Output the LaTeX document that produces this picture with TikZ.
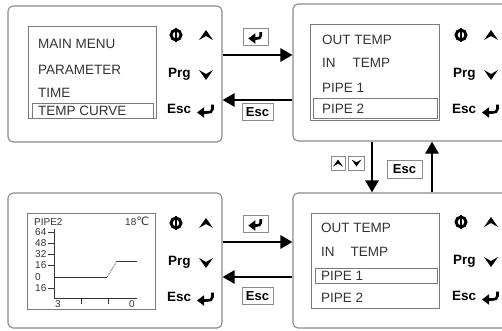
\documentclass[tikz,border=0pt]{standalone}
\usepackage{fontspec}
\setmainfont{Liberation Sans}
\newfontfamily\djv{DejaVu Sans}
\usetikzlibrary{arrows.meta}
\definecolor{ink}{HTML}{333333}
\definecolor{frame}{HTML}{8A8A8A}
\definecolor{scr}{HTML}{7A7A7A}
\tikzset{
  enter/.pic={\draw[line width=2.6pt,-{Triangle[length=7pt,width=10pt]}] (6.5,-5.5) -- (6.5,-1) .. controls (6.5,2) and (4,2.5) .. (1,2.5) -- (-9,2.5);},
  upmark/.pic={\fill (0,-5) -- (7,5) -- (0,1) -- (-7,5) -- cycle;},
  downmark/.pic={\fill (0,5) -- (7,-5) -- (0,-1) -- (-7,-5) -- cycle;},
  btns/.pic={
    \draw[line width=2.9pt] (0,0) circle [radius=5pt];
    \draw[line width=1.8pt] (0,-7) -- (0,7);
    \pic at (30,0) {upmark};
    \node[btntext] (-prg) at (-8,38) {Prg};
    \pic at (30,40) {downmark};
    \node[btntext] (-esc) at (-9,74) {Esc};
    \pic at (30,75) {enter};
  }
}
\begin{document}
\begin{tikzpicture}[x=1pt,y=-1pt,
  panel/.style={draw=frame,line width=1.1pt,rounded corners=5pt,inner sep=0pt},
  screen/.style={draw=scr,line width=0.8pt},
  hl/.style={draw=scr,line width=0.8pt},
  menu/.style={anchor=west,inner sep=0pt,text=ink,font=\fontsize{13.5}{14}\selectfont,text height=9.7pt,text depth=0pt},
  btntext/.style={anchor=west,inner sep=0pt,font=\bfseries\fontsize{13.5}{14}\selectfont,text height=9.7pt,text depth=0pt},
  chart/.style={inner sep=0pt,text=ink,font=\fontsize{10}{10}\selectfont,text height=7.2pt,text depth=0pt},
  lbl/.style={draw=frame,line width=0.8pt,inner sep=0pt},
  lbltext/.style={font=\bfseries\fontsize{13}{13}\selectfont,text height=9.3pt,text depth=0pt},
  bigarrow/.style={line width=2.6pt,-{Triangle[length=12pt,width=13pt]}},
  axis/.style={draw=ink,line width=0.8pt}
]
\useasboundingbox (0,0) rectangle (502,330);
\clip (0,0) rectangle (502,330);

% panels
\node[panel,minimum width=214pt,minimum height=136pt] (tl) at (115,74) {};
\node[panel,minimum width=219pt,minimum height=137pt] (tr) at (402.5,72.5) {};
\node[panel,minimum width=214pt,minimum height=135pt] (bl) at (115,260.5) {};
\node[panel,minimum width=219pt,minimum height=135pt] (br) at (402.5,260.5) {};

% top-left screen
\draw[screen] (28,26) rectangle (156,118);
\draw[hl] (32,103) rectangle (153,118);
\node[menu] (t1) at (38,44) {MAIN MENU};
\node[menu] (t2) at (38,70) {PARAMETER};
\node[menu] (t3) at (38,93) {TIME};
\node[menu] (t4) at (38,110.5) {TEMP CURVE};
\pic (bta) at (176,35) {btns};

% top-right screen
\draw[screen] (310,24) rectangle (439,120);
\draw[hl] (313,98) rectangle (437,118);
\node[menu] (r1) at (322,40) {OUT TEMP};
\node[menu] (r2) at (322,63) {IN\hspace{17pt}TEMP};
\node[menu] (r3) at (322,87.5) {PIPE 1};
\node[menu] (r4) at (322,108.5) {PIPE 2};
\pic (btb) at (461,35) {btns};

% bottom-left screen with chart
\draw[screen] (27,213) rectangle (155,309);
\node[chart,anchor=west] (cname) at (34,222) {PIPE2};
\node[chart,anchor=west] (ctemp) at (125,222) {18{\djv\fontsize{11.5}{11}\selectfont ℃}};
\node[chart,anchor=west] (y1) at (35,232) {64};
\node[chart,anchor=west] (y2) at (35,243) {48};
\node[chart,anchor=west] (y3) at (35,254) {32};
\node[chart,anchor=west] (y4) at (35,265) {16};
\node[chart,anchor=west] (y5) at (35,277) {0};
\node[chart,anchor=west] (y6) at (35,288) {16};
\draw[axis] (54,229) -- (54,298) -- (137,298);
\foreach \yy in {232,243,254,265,288} \draw[axis] (48,\yy) -- (54,\yy);
\foreach \xx in {81,108} \draw[axis] (\xx,298) -- (\xx,304);
\node[chart] (x1) at (58,304) {3};
\node[chart] (x2) at (132,304) {0};
\draw[axis] (54,277) -- (107,277);
\draw[axis,densely dotted] (107,277) -- (117,261);
\draw[axis] (117,261) -- (137,261);
\pic (btc) at (176,223) {btns};

% bottom-right screen
\draw[screen] (311,213) rectangle (439,308);
\draw[hl] (315,268) rectangle (437,283);
\node[menu] (s1) at (321,228) {OUT TEMP};
\node[menu] (s2) at (321,252) {IN\hspace{16pt}TEMP};
\node[menu] (s3) at (321,276) {PIPE 1};
\node[menu] (s4) at (321,298) {PIPE 2};
\pic (btd) at (461,222) {btns};

% connectors
\draw[bigarrow] (tl.east |- 0,55) -- (tr.west |- 0,55);
\draw[bigarrow] (tr.west |- 0,100) -- (tl.east |- 0,100);
\draw[bigarrow] (bl.east |- 0,242) -- (br.west |- 0,242);
\draw[bigarrow] (br.west |- 0,277) -- (bl.east |- 0,277);
\draw[bigarrow] (tr.south -| 372,0) -- (br.north -| 372,0);
\draw[bigarrow] (br.north -| 432,0) -- (tr.south -| 432,0);

% connector labels
\node[lbl,minimum width=25pt,minimum height=17pt] (la) at (255.5,36.5) {};
\pic[scale=0.8] at (la.center) {enter};
\node[lbl,lbltext,minimum width=31pt,minimum height=17pt] (lb) at (257.5,111.5) {Esc};
\node[lbl,minimum width=25pt,minimum height=17pt] (lc) at (255.5,223.5) {};
\pic[scale=0.8] at (lc.center) {enter};
\node[lbl,lbltext,minimum width=31pt,minimum height=17pt] (ld) at (257.5,296) {Esc};
\node[lbl,minimum width=14pt,minimum height=14pt] (le) at (338,163) {};
\pic[scale=0.7] at (le.center) {upmark};
\node[lbl,minimum width=16pt,minimum height=14pt] (lf) at (356.5,163) {};
\pic[scale=0.7] at (lf.center) {downmark};
\node[lbl,lbltext,minimum width=35pt,minimum height=18pt] (lg) at (404.5,169) {Esc};
\end{tikzpicture}
\end{document}
